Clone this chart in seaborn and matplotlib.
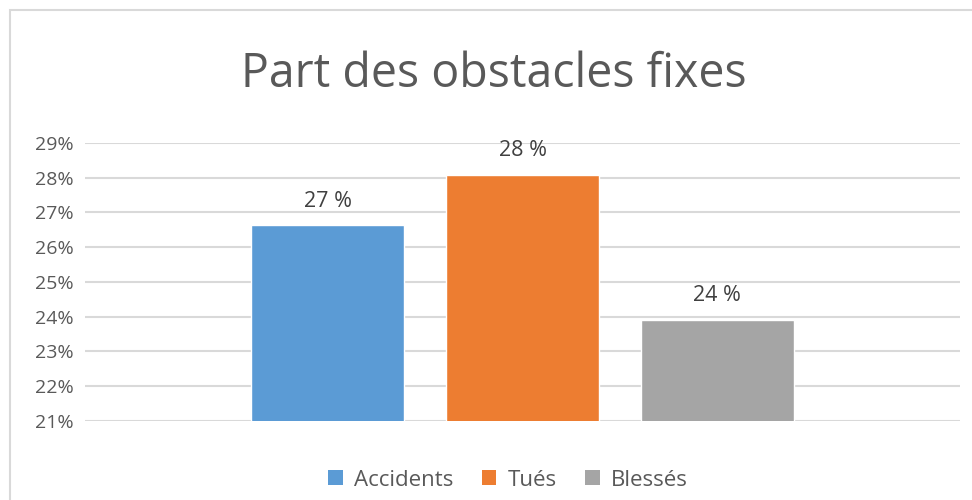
import matplotlib
matplotlib.use("Agg")
import matplotlib.pyplot as plt
import seaborn as sns
import pandas as pd
from matplotlib.patches import Rectangle, Patch

series = ["Accidents", "Tués", "Blessés"]
values = [26.63, 28.09, 23.92]
labels = ["27 %", "28 %", "24 %"]
colors = ["#5b9bd5", "#ed7d31", "#a5a5a5"]
yticks = [21, 22, 23, 24, 25, 26, 27, 28, 29]

sns.set_theme(style="white")
plt.rcParams["font.family"] = ["Open Sans", "DejaVu Sans"]

df = pd.DataFrame({"serie": series, "val": values})

fig = plt.figure(figsize=(9.72, 5.0), dpi=100)
ax = fig.add_axes([85/972, 1-421/500, 875/972, (421-143)/500])

sns.barplot(data=df, x="serie", y="val", hue="serie", order=series, hue_order=series,
            palette=colors, width=0.785, dodge=False, legend=False, ax=ax, saturation=1)

ax.set_ylim(21, 29)
ax.set_xlim(-1.245, 3.245)
ax.set_yticks(yticks)
ax.set_yticklabels([f"{t}%" for t in yticks], color="#595959", fontsize=14)
ax.set_xticks([])
ax.set_xlabel("")
ax.set_ylabel("")
ax.yaxis.grid(True, color="#d9d9d9", linewidth=1.5)
ax.set_axisbelow(True)
for s in ax.spines.values():
    s.set_visible(False)
ax.tick_params(axis="y", length=0, pad=8)

for i, (v, lab) in enumerate(zip(values, labels)):
    ax.text(i, v + 0.38, lab, ha="center", va="bottom", fontsize=15.5, color="#404040")

fig.text(494/972, 1-74/500, "Part des obstacles fixes", ha="center", va="center",
         fontsize=33.5, color="#595959")

handles = [Patch(facecolor=c, edgecolor="none") for c in colors]
fig.legend(handles, series, loc="center", bbox_to_anchor=(508/972, 1-480/500), ncol=3,
           frameon=False, fontsize=16, handlelength=0.65, handleheight=0.65,
           handletextpad=0.5, columnspacing=1.3, labelcolor="#595959")

fig.patches.append(Rectangle((10/972, -0.1), 2, 1.1-10/500, transform=fig.transFigure,
                             fill=False, edgecolor="#d9d9d9", linewidth=1.5))

fig.savefig("out.png", dpi=100, facecolor="white")
